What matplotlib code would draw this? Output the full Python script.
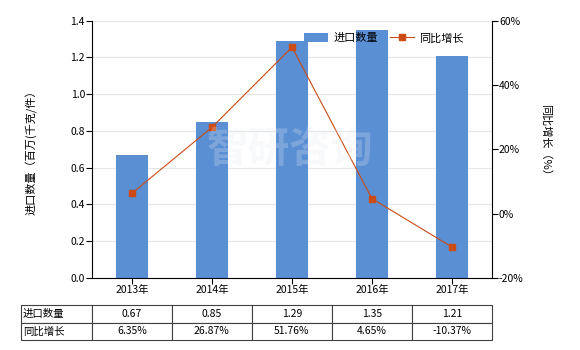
import matplotlib
matplotlib.use("Agg")
import matplotlib.pyplot as plt
import numpy as np

plt.rcParams['font.family'] = ['Noto Sans CJK SC', 'DejaVu Sans']

years = ["2013年", "2014年", "2015年", "2016年", "2017年"]
import_qty = [0.67, 0.85, 1.29, 1.35, 1.21]
growth = [6.35, 26.87, 51.76, 4.65, -10.37]
qty_labels = ["0.67", "0.85", "1.29", "1.35", "1.21"]
growth_labels = ["6.35%", "26.87%", "51.76%", "4.65%", "-10.37%"]

bar_color = "#5a8fd4"
line_color = "#cc4a14"
fs = 7.5

fig = plt.figure(figsize=(5.8, 3.5), dpi=100)
ax = fig.add_axes([92/580, 1-278/350, 400/580, (278-20.7)/350])
x = np.arange(len(years))
ax.bar(x, import_qty, width=0.4, color=bar_color, zorder=2, label="进口数量")
ax.set_xlim(-0.5, len(years)-0.5)
ax.set_ylim(0, 1.4)
ax.set_yticks(np.arange(0, 1.41, 0.2))
ax.set_yticklabels([f"{v:.1f}" for v in np.arange(0, 1.41, 0.2)], fontsize=fs)
ax.set_xticks(x)
ax.set_xticklabels(years, fontsize=fs)
ax.yaxis.grid(True, color="#e6e6e6", linewidth=0.8, zorder=0)
ax.set_axisbelow(True)
for s in ["top", "right"]:
    ax.spines[s].set_visible(False)
ax.spines["left"].set_color("black")
ax.spines["bottom"].set_color("black")
ax.tick_params(axis="y", length=4, width=0.8, pad=1)
ax.tick_params(axis="x", length=4, width=0.8, pad=1)

ax2 = ax.twinx()
ax2.plot(x, growth, color=line_color, linewidth=0.8, marker="s", markersize=4.5,
         label="同比增长", zorder=3)
ax2.set_ylim(-20, 60)
ax2.set_yticks([-20, 0, 20, 40, 60])
ax2.set_yticklabels(["-20%", "0%", "20%", "40%", "60%"], fontsize=fs)
for s in ["top", "left", "bottom"]:
    ax2.spines[s].set_visible(False)
ax2.spines["right"].set_color("black")
ax2.tick_params(axis="y", length=4, width=0.8, pad=1)

fig.text(32/580, 1-150/350, "进口数量（百万(千克/件）", rotation=90, ha="center", va="center", fontsize=fs+0.5)
fig.text(546/580, 1-142/350, "同比增长（%）", rotation=-90, ha="center", va="center", fontsize=fs+0.5)

# watermark
fig.text(290/580, 1-150/350, "智研咨询", ha="center", va="center", fontsize=30,
         color="#e4eaf1", alpha=0.25, zorder=0, fontweight="bold")

h1, l1 = ax.get_legend_handles_labels()
h2, l2 = ax2.get_legend_handles_labels()
ax2.legend(h1 + h2, l1 + l2, loc="upper right", bbox_to_anchor=((464-92)/400, 1-(33-20.7)/257.3),
           ncol=2, frameon=False, fontsize=fs+0.5, handlelength=2.2, handleheight=0.9,
           columnspacing=1.0, handletextpad=0.5, borderaxespad=0, borderpad=0)

# table
cell_text = [["进口数量"] + qty_labels, ["同比增长"] + growth_labels]
ax_h = 278 - 20.7
tbl = ax.table(cellText=cell_text, cellLoc="center",
               bbox=[(20.7-92)/400, -(340-278)/ax_h, 471.3/400, 35/ax_h],
               colWidths=[71/471.3] + [80/471.3]*5)
tbl.auto_set_font_size(False)
tbl.set_fontsize(fs)
for (r, c), cell in tbl.get_celld().items():
    cell.set_edgecolor("#404040")
    cell.set_linewidth(0.8)
    if c == 0:
        cell.get_text().set_ha("left")
        cell.PAD = 0.03

fig.savefig("out.png", dpi=100)
